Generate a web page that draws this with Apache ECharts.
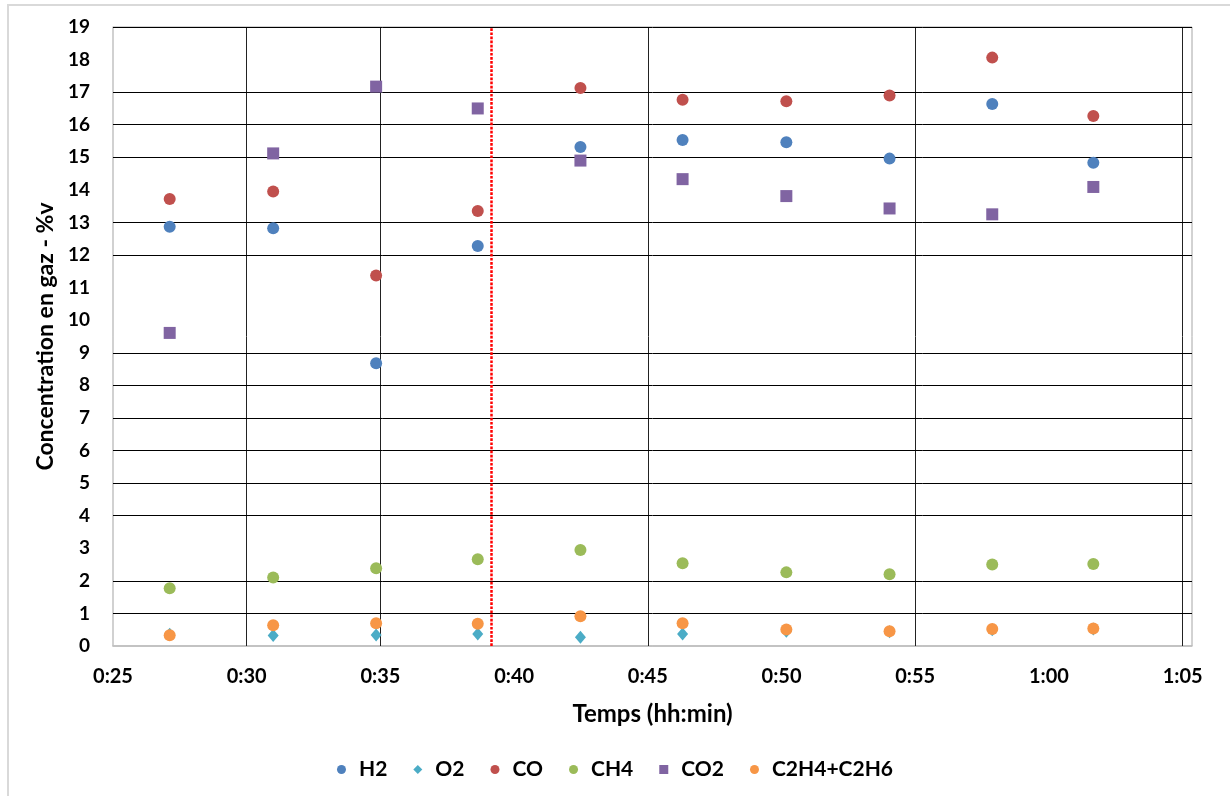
<!DOCTYPE html>
<html>
<head>
<meta charset="utf-8">
<script src="https://cdn.jsdelivr.net/npm/echarts@6/dist/echarts.min.js"></script>
<style>
html,body{margin:0;padding:0;background:#fff;}
#chart{width:1230px;height:796px;}
</style>
</head>
<body>
<div id="chart"></div>
<script>
// Time in minutes since start (0:25 = 25)
const times = [27.12, 30.99, 34.84, 38.64, 42.48, 46.30, 50.18, 54.04, 57.88, 61.66];
const h2  = [12.87, 12.82, 8.68, 12.28, 15.32, 15.53, 15.46, 14.96, 16.64, 14.83];
const o2  = [0.36, 0.32, 0.34, 0.37, 0.27, 0.37, 0.45, 0.44, 0.50, 0.52];
const co  = [13.72, 13.95, 11.37, 13.35, 17.13, 16.77, 16.72, 16.90, 18.06, 16.27];
const ch4 = [1.77, 2.10, 2.39, 2.66, 2.95, 2.54, 2.26, 2.20, 2.50, 2.52];
const co2 = [9.61, 15.12, 17.17, 16.50, 14.90, 14.33, 13.81, 13.43, 13.25, 14.09];
const c2  = [0.33, 0.64, 0.70, 0.68, 0.91, 0.70, 0.51, 0.45, 0.52, 0.54];
const seriesNames = ['H2', 'O2', 'CO', 'CH4', 'CO2', 'C2H4+C2H6'];
const transitionTime = 39.13;
const xGridLines = [30, 35, 45, 55, 65];
const yGridLines = [1, 2, 4, 5, 6, 7, 8, 9, 12, 13, 15, 16, 17, 19];
const xTitle = 'Temps (hh:min)';
const yTitle = 'Concentration en gaz - %v';

const FONT = 'Lato';
function fmtTime(v) {
  const m = Math.round(v);
  if (Math.abs(v - m) > 1e-6 || m % 5 !== 0) return '';
  return Math.floor(m / 60) + ':' + String(m % 60).padStart(2, '0');
}
function pts(ys) { return times.map((t, i) => [t, ys[i]]); }

const colors = ['#4F81BD', '#4BACC6', '#C0504D', '#9BBB59', '#8064A2', '#F79646'];
const symbols = ['circle', 'diamond', 'circle', 'circle', 'rect', 'circle'];
const sizes = [12, [11, 13], 12, 12, 12, 12];
const values = [h2, o2, co, ch4, co2, c2];

const series = values.map((ys, i) => ({
  name: seriesNames[i],
  type: 'scatter',
  data: pts(ys),
  symbol: symbols[i],
  symbolSize: sizes[i],
  itemStyle: { color: colors[i], opacity: 1 },
  z: 5 + i,
  animation: false
}));

series.unshift({
  name: 'grid',
  type: 'line',
  data: [],
  silent: true,
  z: 1,
  animation: false,
  markLine: {
    silent: true,
    symbol: 'none',
    label: { show: false },
    animation: false,
    data: [
      ...xGridLines.map(v => ({ xAxis: v, lineStyle: { color: '#222', width: 1, type: 'solid' } })),
      ...yGridLines.map(v => ({ yAxis: v, lineStyle: { color: '#000', width: 1, type: 'solid' } })),
      { xAxis: transitionTime, lineStyle: { color: '#FF0000', width: 2.5, type: [2.7, 1.4] } }
    ]
  }
});

const chart = echarts.init(document.getElementById('chart'), null, { renderer: 'canvas' });
chart.setOption({
  animation: false,
  backgroundColor: '#fff',
  graphic: [{
    type: 'rect',
    shape: { x: 8, y: 5, width: 1240, height: 810 },
    style: { fill: 'none', stroke: '#d9d9d9', lineWidth: 2 },
    silent: true, z: -1
  }],
  grid: {
    left: 113, right: 38, top: 27, bottom: 150,
    show: true, borderColor: '#a6a6a6', borderWidth: 1, backgroundColor: 'transparent'
  },
  xAxis: {
    type: 'value',
    min: 25, max: 65.35, interval: 5,
    name: xTitle,
    nameLocation: 'middle',
    nameGap: 56,
    nameTextStyle: { fontFamily: FONT, fontWeight: 'bold', fontSize: 24, color: '#000' },
    axisLine: { show: true, lineStyle: { color: '#bfbfbf', width: 1.5 } },
    axisTick: { show: false },
    splitLine: { show: false },
    axisLabel: {
      formatter: fmtTime, margin: 21, showMaxLabel: false,
      fontFamily: FONT, fontWeight: 'bold', fontSize: 20, color: '#000'
    }
  },
  yAxis: {
    type: 'value',
    min: 0, max: 19, interval: 1,
    name: yTitle,
    nameLocation: 'middle',
    nameGap: 56,
    nameRotate: 90,
    nameTextStyle: { fontFamily: FONT, fontWeight: 'bold', fontSize: 23, color: '#000' },
    axisLine: { show: true, lineStyle: { color: '#d0d0d0', width: 1.5 } },
    axisTick: { show: false },
    splitLine: { show: false },
    axisLabel: {
      margin: 23,
      fontFamily: FONT, fontWeight: 'bold', fontSize: 19, color: '#000'
    }
  },
  legend: {
    data: seriesNames,
    bottom: 11,
    left: 'center',
    itemWidth: 9,
    itemHeight: 9,
    itemGap: 26,
    textStyle: { fontFamily: FONT, fontWeight: 'bold', fontSize: 21, color: '#000', padding: [0, 0, 0, 8] }
  },
  series: series
});
</script>
</body>
</html>
